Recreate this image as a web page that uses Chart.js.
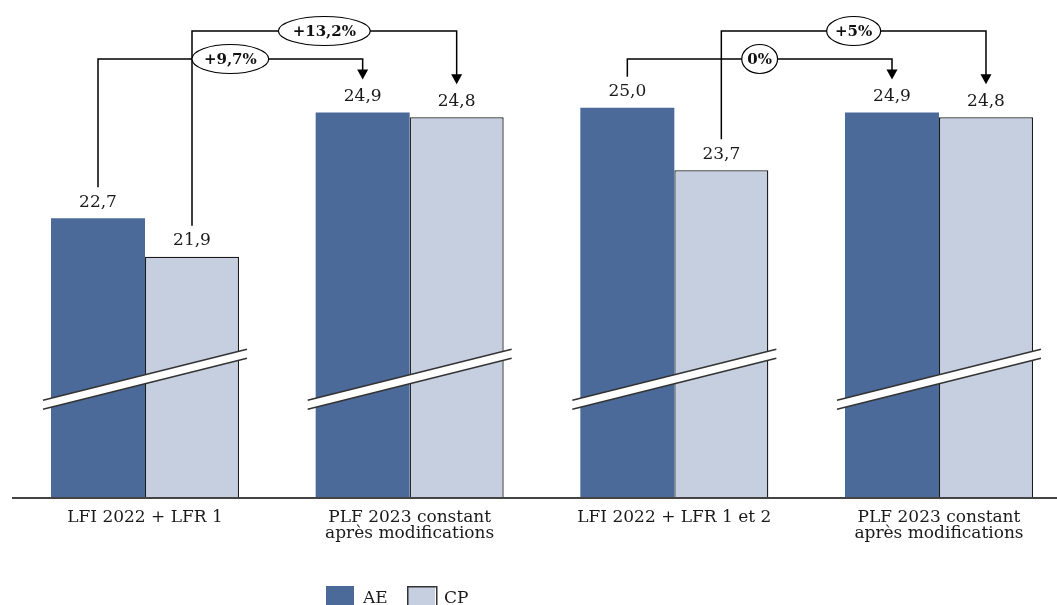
<!DOCTYPE html>
<html lang="fr">
<head>
<meta charset="UTF-8">
<title>AE / CP</title>
<script src="https://cdn.jsdelivr.net/npm/chart.js"></script>
<style>
  html, body { margin: 0; padding: 0; background: #fff; overflow: hidden; }
</style>
</head>
<body>
<canvas id="budgetChart" width="1075" height="605"></canvas>
<script>
const categories = [
  ['LFI 2022 + LFR 1'],
  ['PLF 2023 constant', 'après modifications'],
  ['LFI 2022 + LFR 1 et 2'],
  ['PLF 2023 constant', 'après modifications']
];
const aeValues = [22.7, 24.9, 25.0, 24.9];
const cpValues = [21.9, 24.8, 23.7, 24.8];
const seriesNames = ['AE', 'CP'];
const seriesColors = ['#4b6a99', '#c5cfe0'];

// evolution brackets: series index, from category, to category, label
const evoSeries = [0, 1, 0, 1];
const evoFrom = [0, 0, 2, 2];
const evoTo = [1, 1, 3, 3];
const evoLabels = ['+9,7%', '+13,2%', '0%', '+5%'];

const SERIF = '"DejaVu Serif", serif';
const BREAK_VALUE = 19.35;   // where the axis break is drawn
const tierY = [59, 31];      // bracket heights (AE lower, CP upper)

function fmt(v) { return v.toFixed(1).replace('.', ','); }

const decorPlugin = {
  id: 'decor',
  afterDatasetsDraw(chart) {
    const ctx = chart.ctx;
    const yScale = chart.scales.y;
    const area = chart.chartArea;
    const m0 = chart.getDatasetMeta(0), m1 = chart.getDatasetMeta(1);
    ctx.save();

    // base line
    ctx.strokeStyle = '#444';
    ctx.lineWidth = 2;
    ctx.beginPath();
    ctx.moveTo(12, area.bottom + 1);
    ctx.lineTo(chart.width, area.bottom + 1);
    ctx.stroke();

    // axis break marks
    categories.forEach((c, i) => {
      const a = m0.data[i], b = m1.data[i];
      const x0 = a.x - a.width / 2 - 8, x1 = b.x + b.width / 2 + 8;
      const xc = (x0 + x1) / 2, yc = yScale.getPixelForValue(BREAK_VALUE);
      const slope = -0.25, half = 4.5;
      const y0 = yc + slope * (x0 - xc), y1 = yc + slope * (x1 - xc);
      ctx.fillStyle = '#fff';
      ctx.beginPath();
      ctx.moveTo(x0, y0 - half); ctx.lineTo(x1, y1 - half);
      ctx.lineTo(x1, y1 + half); ctx.lineTo(x0, y0 + half);
      ctx.closePath();
      ctx.fill();
      ctx.strokeStyle = '#333';
      ctx.lineWidth = 1.5;
      ctx.beginPath();
      ctx.moveTo(x0, y0 - half); ctx.lineTo(x1, y1 - half);
      ctx.moveTo(x0, y0 + half); ctx.lineTo(x1, y1 + half);
      ctx.stroke();
    });

    // value labels
    ctx.fillStyle = '#1a1a1a';
    ctx.font = '17px ' + SERIF;
    ctx.textAlign = 'center';
    ctx.textBaseline = 'middle';
    [m0, m1].forEach((meta, d) => {
      meta.data.forEach((bar, i) => {
        const v = chart.data.datasets[d].data[i];
        ctx.fillText(fmt(v), bar.x, bar.y - 16);
      });
    });

    // evolution brackets
    ctx.strokeStyle = '#000';
    ctx.fillStyle = '#000';
    ctx.lineWidth = 1.5;
    evoLabels.forEach((txt, k) => {
      const meta = chart.getDatasetMeta(evoSeries[k]);
      const p = meta.data[evoFrom[k]], q = meta.data[evoTo[k]];
      const ly = tierY[evoSeries[k]];
      const startY = p.y - 31;
      const tipY = q.y - 33;
      ctx.beginPath();
      ctx.moveTo(p.x, startY);
      ctx.lineTo(p.x, ly);
      ctx.lineTo(q.x, ly);
      ctx.lineTo(q.x, tipY - 9);
      ctx.stroke();
      ctx.beginPath();
      ctx.moveTo(q.x - 5.5, tipY - 10);
      ctx.lineTo(q.x + 5.5, tipY - 10);
      ctx.lineTo(q.x, tipY);
      ctx.closePath();
      ctx.fill();
    });
    ctx.font = 'bold 15px ' + SERIF;
    evoLabels.forEach((txt, k) => {
      const meta = chart.getDatasetMeta(evoSeries[k]);
      const p = meta.data[evoFrom[k]], q = meta.data[evoTo[k]];
      const ly = tierY[evoSeries[k]];
      const cx = (p.x + q.x) / 2;
      const w = ctx.measureText(txt).width;
      ctx.beginPath();
      ctx.ellipse(cx, ly, w * 0.725, 14.5, 0, 0, Math.PI * 2);
      ctx.fillStyle = '#fff';
      ctx.fill();
      ctx.lineWidth = 1.2;
      ctx.stroke();
      ctx.fillStyle = '#111';
      ctx.fillText(txt, cx, ly + 1);
    });

    ctx.restore();
  },
  afterDraw(chart) {
    // legend
    const ctx = chart.ctx;
    ctx.save();
    ctx.font = '17px ' + SERIF;
    ctx.textAlign = 'left';
    ctx.textBaseline = 'alphabetic';
    let x = 326;
    chart.data.datasets.forEach((ds, i) => {
      ctx.fillStyle = ds.backgroundColor;
      ctx.fillRect(x, 586, 28, 24);
      if (ds.borderWidth) {
        ctx.strokeStyle = '#333';
        ctx.lineWidth = 1.5;
        ctx.strokeRect(x + 0.75, 586.75, 29, 24);
      }
      ctx.fillStyle = '#1a1a1a';
      ctx.fillText(ds.label, x + 37, 603);
      x += 81;
    });
    ctx.restore();
  }
};

new Chart(document.getElementById('budgetChart'), {
  type: 'bar',
  data: {
    labels: categories,
    datasets: [
      { label: seriesNames[0], data: aeValues, backgroundColor: seriesColors[0], borderWidth: 0 },
      { label: seriesNames[1], data: cpValues, backgroundColor: seriesColors[1], borderColor: '#1a1a1a', borderWidth: 1.3 }
    ]
  },
  options: {
    responsive: false,
    animation: false,
    layout: { padding: { left: 12.67, right: 3.67, top: 0, bottom: 48 } },
    plugins: { legend: { display: false }, tooltip: { enabled: false } },
    datasets: { bar: { categoryPercentage: 0.7103, barPercentage: 1 } },
    scales: {
      x: {
        grid: { display: false, drawTicks: false },
        border: { display: false },
        ticks: {
          padding: 13,
          color: '#1a1a1a',
          maxRotation: 0,
          autoSkip: false,
          font: { family: SERIF, size: 17, lineHeight: '16px' }
        },
        afterFit(scale) { scale.height = 60; }
      },
      y: { display: false, min: 16.9, max: 27.24 }
    }
  },
  plugins: [decorPlugin]
});
</script>
</body>
</html>
